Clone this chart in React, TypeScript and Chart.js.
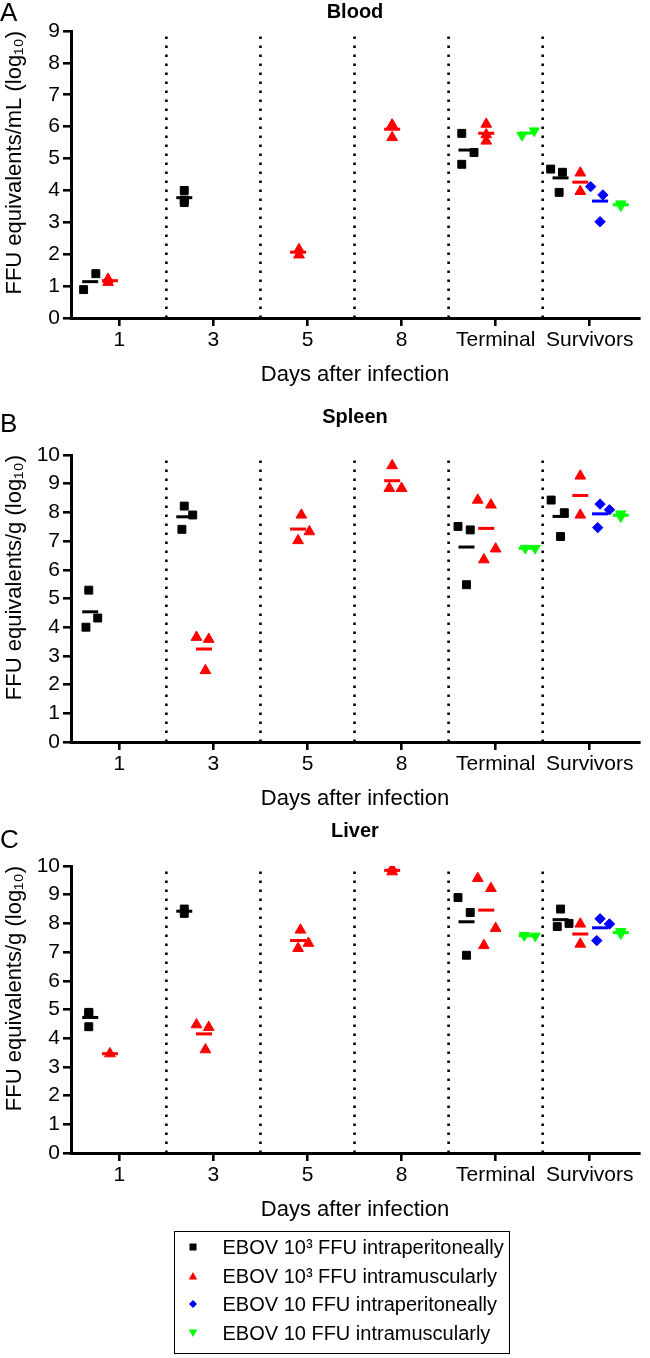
import React, { useEffect, useRef } from "react";
import { Chart, registerables } from "chart.js";

Chart.register(...registerables);

const FONT = "'Liberation Sans', Arial, Helvetica, sans-serif";

// ---------- categories / series ----------
const categories = ["1", "3", "5", "8", "Terminal", "Survivors"];
const seriesLabels = [
  "EBOV 10³ FFU intraperitoneally",
  "EBOV 10³ FFU intramuscularly",
  "EBOV 10 FFU intraperitoneally",
  "EBOV 10 FFU intramuscularly",
];
const seriesColors = ["#000000", "#ff0000", "#0000ff", "#00ff00"];
const seriesPointStyles = ["rect", "triangle", "rectRot", "triangle"];
const seriesRotations = [0, 0, 0, 180];
const seriesRadii = [5.6, 6.2, 5.2, 5.8];
// horizontal group offset within each category (in category units)
const seriesOffsets = [-0.31, -0.1, 0.11, 0.33];

// ---------- Blood (log10 FFU eq/mL) ----------
const bloodIP3 = [[0.89, 1.39], [4.0, 3.62, 3.7], [], [], [5.79, 5.19, 4.82], [4.67, 4.57, 3.94]];
const bloodIP3Jitter = [[-0.07, 0.06], [0, 0, 0], [], [], [-0.05, 0.08, -0.05], [-0.105, 0.02, -0.015]];
const bloodIM3 = [[1.12, 1.22], [], [2.15, 1.98], [6.05, 6.05, 5.66], [6.08, 5.75, 5.55], [4.55, 3.97]];
const bloodIM3Jitter = [[-0.02, -0.02], [], [0.01, 0.01], [0, 0, 0], [0, 0, 0], [0, 0]];
const bloodIP10 = [[], [], [], [], [], [4.12, 3.86, 3.02]];
const bloodIP10Jitter = [[], [], [], [], [], [-0.1, 0.03, 0]];
const bloodIM10 = [[], [], [], [], [5.73, 5.87], [3.58, 3.52]];
const bloodIM10Jitter = [[], [], [], [], [-0.05, 0.08], [0, 0]];

// ---------- Spleen (log10 FFU eq/g) ----------
const spleenIP3 = [[5.29, 4.32, 4.0], [8.22, 7.91, 7.41], [], [], [7.51, 7.39, 5.48], [8.43, 7.99, 7.16]];
const spleenIP3Jitter = [[-0.015, 0.08, -0.045], [0, 0.09, -0.025], [], [], [-0.09, 0.04, 0], [-0.1, 0.04, 0]];
const spleenIM3 = [[], [3.65, 3.58, 2.49], [7.91, 7.33, 7.02], [9.63, 8.84, 8.84], [8.43, 8.26, 6.73, 6.35], [9.27, 7.91]];
const spleenIM3Jitter = [[], [-0.08, 0.05, 0.015], [0.035, 0.12, 0], [0, -0.03, 0.1], [-0.09, 0.05, 0.1, -0.025], [0, 0]];
const spleenIP10 = [[], [], [], [], [], [8.29, 8.09, 7.47]];
const spleenIP10Jitter = [[], [], [], [], [], [0, 0.1, -0.025]];
const spleenIM10 = [[], [], [], [], [6.75, 6.75], [7.95, 7.85]];
const spleenIM10Jitter = [[], [], [], [], [-0.015, 0.09], [0, 0]];

// ---------- Liver (log10 FFU eq/g) ----------
const liverIP3 = [[4.9, 4.87, 4.4], [8.5, 8.35], [], [], [8.9, 8.38, 6.89], [8.5, 8.0, 7.89]];
const liverIP3Jitter = [[-0.015, -0.015, -0.015], [0, 0], [], [], [-0.09, 0.04, 0], [0, 0.09, -0.035]];
const liverIM3 = [[3.46], [4.47, 4.38, 3.6], [7.77, 7.31, 7.13], [9.9, 9.8], [9.57, 9.22, 7.83, 7.23], [7.98, 7.28]];
const liverIM3Jitter = [[0], [-0.08, 0.05, 0.015], [0.025, 0.11, 0], [0, 0], [-0.09, 0.05, 0.1, -0.025], [0, 0]];
const liverIP10 = [[], [], [], [], [], [8.16, 7.98, 7.4]];
const liverIP10Jitter = [[], [], [], [], [], [0, 0.1, -0.035]];
const liverIM10 = [[], [], [], [], [7.58, 7.56], [7.72, 7.64]];
const liverIM10Jitter = [[], [], [], [], [-0.025, 0.09], [0, 0]];

const xTitle = "Days after infection";

type Panel = {
  letter: string;
  title: string;
  yTitle: string;
  yMax: number;
  series: number[][][];
  jitter: number[][][];
  top: number;
  height: number;
  titlePad: [number, number];
  xAxisH: number;
  xTitlePad: number;
  letterBaseline: number;
};

const panels: Panel[] = [
  {
    letter: "A", title: "Blood", yTitle: "FFU equivalents/mL (log₁₀)", yMax: 9,
    series: [bloodIP3, bloodIM3, bloodIP10, bloodIM10],
    jitter: [bloodIP3Jitter, bloodIM3Jitter, bloodIP10Jitter, bloodIM10Jitter],
    top: 0, height: 400, titlePad: [0, 7], xAxisH: 82, xTitlePad: 11.8, letterBaseline: 21,
  },
  {
    letter: "B", title: "Spleen", yTitle: "FFU equivalents/g (log₁₀)", yMax: 10,
    series: [spleenIP3, spleenIM3, spleenIP10, spleenIM10],
    jitter: [spleenIP3Jitter, spleenIM3Jitter, spleenIP10Jitter, spleenIM10Jitter],
    top: 400, height: 412, titlePad: [5.5, 25.5], xAxisH: 70, xTitlePad: 0, letterBaseline: 32,
  },
  {
    letter: "C", title: "Liver", yTitle: "FFU equivalents/g (log₁₀)", yMax: 10,
    series: [liverIP3, liverIM3, liverIP10, liverIM10],
    jitter: [liverIP3Jitter, liverIM3Jitter, liverIP10Jitter, liverIM10Jitter],
    top: 812, height: 423, titlePad: [7.5, 22.5], xAxisH: 82, xTitlePad: 11.8, letterBaseline: 36,
  },
];

function buildDatasets(p: Panel) {
  const means: any[] = [];
  const points: any[] = [];
  p.series.forEach((vals, s) => {
    const pts: { x: number; y: number }[] = [];
    const mpts: { x: number; y: number }[] = [];
    vals.forEach((arr, i) => {
      arr.forEach((v, k) => pts.push({ x: i + seriesOffsets[s] + (p.jitter[s][i][k] || 0), y: v }));
      if (arr.length) {
        const m = arr.reduce((a, b) => a + b, 0) / arr.length;
        mpts.push({ x: i + seriesOffsets[s], y: m });
      }
    });
    means.push({
      label: seriesLabels[s] + " mean",
      data: mpts,
      pointStyle: "line",
      pointRadius: 8,
      pointBorderWidth: 3,
      borderColor: seriesColors[s],
      backgroundColor: seriesColors[s],
      showLine: false,
    });
    points.push({
      label: seriesLabels[s],
      data: pts,
      pointStyle: seriesPointStyles[s],
      rotation: seriesRotations[s],
      pointRadius: seriesRadii[s],
      pointBorderWidth: 1,
      borderColor: seriesColors[s],
      backgroundColor: seriesColors[s],
      showLine: false,
    });
  });
  const dividers = categories.slice(0, -1).map((_, i) => ({
    label: "divider" + i,
    data: [{ x: i + 0.5, y: 0 }, { x: i + 0.5, y: p.yMax }],
    showLine: true,
    borderColor: "#000",
    borderWidth: 2.6,
    borderDash: [2.6, 6.4],
    pointRadius: 0,
    fill: false,
  }));
  return [...means, ...points, ...dividers];
}

const letterPlugin = {
  id: "panelLetter",
  afterDraw(chart: any) {
    const opts = chart.options.plugins.panelLetter;
    if (!opts) return;
    const ctx = chart.ctx;
    ctx.save();
    ctx.fillStyle = "#000";
    ctx.font = `26px ${FONT}`;
    ctx.textBaseline = "alphabetic";
    ctx.textAlign = "left";
    ctx.fillText(opts.text, 0, opts.baseline);
    ctx.restore();
  },
};

function PanelChart({ p }: { p: Panel }) {
  const ref = useRef<HTMLCanvasElement>(null);
  useEffect(() => {
    if (!ref.current) return;
    const axisCommon = {
      grid: { drawOnChartArea: false, drawTicks: true, tickLength: 8, lineWidth: 2.6, color: "#000" },
      border: { display: true, width: 3, color: "#000" },
    };
    const chart = new Chart(ref.current, {
      type: "scatter",
      data: { datasets: buildDatasets(p) as any },
      plugins: [letterPlugin as any],
      options: {
        animation: false,
        responsive: false,
        devicePixelRatio: 1,
        events: [],
        layout: { padding: { left: 0, right: 3, top: 0, bottom: 0 } },
        plugins: {
          legend: { display: false },
          tooltip: { enabled: false },
          title: {
            display: true,
            text: p.title,
            fullSize: false,
            color: "#000",
            font: { family: FONT, size: 20, weight: "bold", lineHeight: 1.2 },
            padding: { top: p.titlePad[0], bottom: p.titlePad[1] },
          },
          panelLetter: { text: p.letter, baseline: p.letterBaseline },
        } as any,
        scales: {
          x: {
            type: "linear",
            min: -0.514,
            max: 5.524,
            ...axisCommon,
            afterBuildTicks: (s: any) => {
              s.ticks = categories.map((_, i) => ({ value: i }));
            },
            afterFit: (s: any) => {
              s.height = p.xAxisH;
            },
            ticks: {
              autoSkip: false,
              maxRotation: 0,
              padding: 2,
              color: "#000",
              font: { family: FONT, size: 21 },
              callback: (v: any) => categories[Math.round(Number(v))] ?? "",
            },
            title: {
              display: true,
              text: xTitle,
              color: "#000",
              font: { family: FONT, size: 22, lineHeight: 1.2 },
              padding: { top: 0, bottom: p.xTitlePad },
            },
          } as any,
          y: {
            type: "linear",
            min: 0,
            max: p.yMax,
            ...axisCommon,
            afterFit: (s: any) => {
              s.width = 71;
            },
            ticks: {
              stepSize: 1,
              padding: 3,
              color: "#000",
              font: { family: FONT, size: 21 },
            },
            title: {
              display: true,
              text: p.yTitle,
              align: "end",
              color: "#000",
              font: { family: FONT, size: 22, lineHeight: 1.2 },
              padding: { top: 2, bottom: 0 },
            },
          } as any,
        },
      },
    });
    return () => chart.destroy();
  }, [p]);
  return (
    <canvas
      ref={ref}
      width={650}
      height={p.height}
      style={{ position: "absolute", left: 0, top: p.top, width: 650, height: p.height }}
    />
  );
}

const legendRowCenters = [1247, 1276.5, 1304.5, 1333];
const legendBox = { left: 174, top: 1231, width: 336, height: 123 };

function Marker({ i }: { i: number }) {
  const c = seriesColors[i];
  let shape: any;
  if (i === 0) shape = <rect x={1.5} y={1.5} width={7} height={7} fill={c} />;
  else if (i === 1) shape = <polygon points="5,1 9.2,8.6 0.8,8.6" fill={c} />;
  else if (i === 2) shape = <polygon points="5,1 9,5 5,9 1,5" fill={c} />;
  else shape = <polygon points="0.8,1.4 9.2,1.4 5,9" fill={c} />;
  return (
    <svg width={10} height={10} style={{ position: "absolute", left: 13, top: 10 }}>
      {shape}
    </svg>
  );
}

export default function App() {
  return (
    <div style={{ position: "absolute", left: 0, top: 0, width: 650, height: 1358, background: "#fff", overflow: "hidden" }}>
      {panels.map((p) => (
        <PanelChart key={p.letter} p={p} />
      ))}
      <div
        style={{
          position: "absolute",
          left: legendBox.left,
          top: legendBox.top,
          width: legendBox.width,
          height: legendBox.height,
          border: "1.5px solid #000",
          boxSizing: "border-box",
          fontFamily: FONT,
          fontSize: 20,
          color: "#000",
        }}
      >
        {seriesLabels.map((lab, i) => (
          <div
            key={lab}
            style={{
              position: "absolute",
              left: 0,
              top: legendRowCenters[i] - (legendBox.top + 1.5) - 15,
              height: 30,
              width: "100%",
            }}
          >
            <Marker i={i} />
            <span style={{ position: "absolute", left: 47.5, top: 0, lineHeight: "30px", whiteSpace: "nowrap" }}>{lab}</span>
          </div>
        ))}
      </div>
    </div>
  );
}
